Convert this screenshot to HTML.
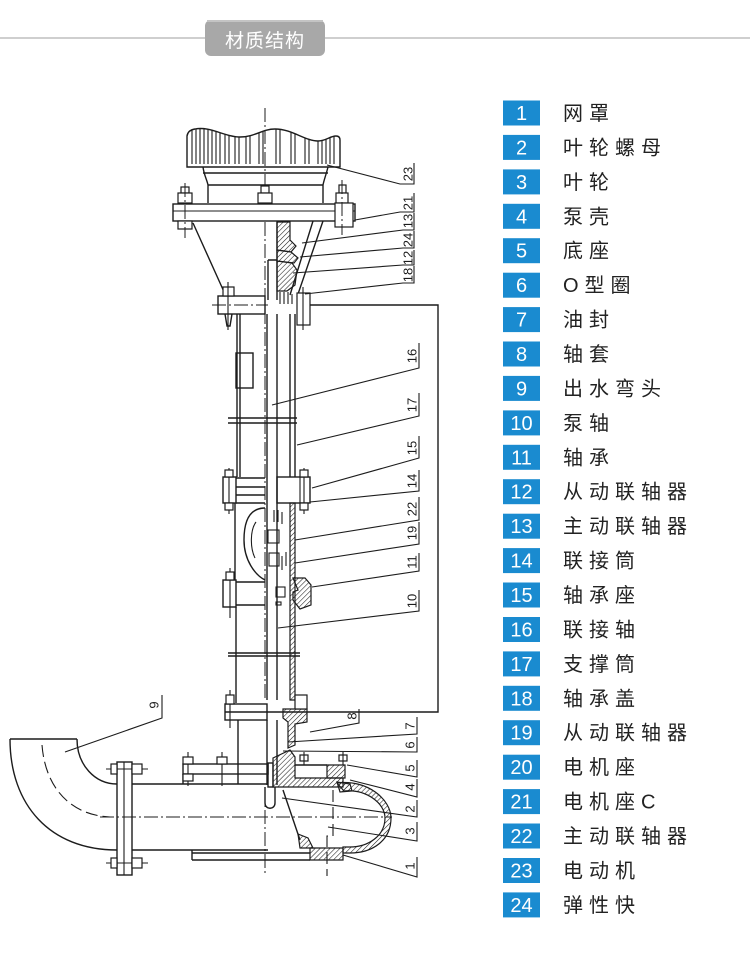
<!DOCTYPE html>
<html><head><meta charset="utf-8"><style>
html,body{margin:0;padding:0;background:#fff;}
svg{display:block;}
.l{stroke:#1c1c1c;stroke-width:1.4;fill:none;}
.t{stroke:#1c1c1c;stroke-width:1.1;fill:none;}
.cd{stroke:#1c1c1c;stroke-width:1;fill:none;stroke-dasharray:14 3 2 3;}
.dd{stroke:#1c1c1c;stroke-width:1.1;fill:none;stroke-dasharray:12 5;}
.h{fill:url(#hat);stroke:#1c1c1c;stroke-width:1.2;}
.w{fill:#fff;stroke:#1c1c1c;stroke-width:1.2;}
.lab{font-family:"Liberation Sans",sans-serif;font-size:13px;fill:#1c1c1c;}
.num{font-family:"Liberation Sans",sans-serif;font-size:20px;fill:#fff;}
.cn{font-family:"Liberation Sans","Noto Sans CJK SC",sans-serif;font-size:20px;fill:#222;letter-spacing:6px;}
</style></head><body>
<svg width="750" height="978" viewBox="0 0 750 978" xmlns="http://www.w3.org/2000/svg">
<defs>
<pattern id="hat" width="3.5" height="3.5" patternUnits="userSpaceOnUse" patternTransform="rotate(45)">
<line x1="0" y1="0" x2="0" y2="3.5" stroke="#1c1c1c" stroke-width="1.1"/>
</pattern>
<clipPath id="fins"><path d="M187,167 L187,136 Q188,130 195,129 C210,126 225,137 240,137 C255,137 262,129 275,129 C292,129 305,141 318,141 C326,141 330,136 336,136 Q340,136 340,140 L340,167 Z"/></clipPath>
</defs>
<rect width="750" height="978" fill="#fff"/>

<!-- title -->
<line x1="0" y1="38" x2="750" y2="38" stroke="#cfcfcf" stroke-width="2"/>
<rect x="205" y="20" width="120" height="36" rx="6" fill="#a8a8a8"/>
<rect x="207" y="20" width="116" height="2" fill="#c4c4c4"/>
<text x="265" y="47" text-anchor="middle" font-family="Liberation Sans,'Noto Sans CJK SC',sans-serif" font-size="19" fill="#fff" letter-spacing="1">材质结构</text>

<!-- legend -->
<g>
<rect x="503" y="100.5" width="37" height="25" fill="#1a8bd0"/><text class="num" x="521.5" y="120" text-anchor="middle">1</text><text class="cn" x="563" y="120">网罩</text>
<rect x="503" y="134.9" width="37" height="25" fill="#1a8bd0"/><text class="num" x="521.5" y="154.4" text-anchor="middle">2</text><text class="cn" x="563" y="154.4">叶轮螺母</text>
<rect x="503" y="169.4" width="37" height="25" fill="#1a8bd0"/><text class="num" x="521.5" y="188.9" text-anchor="middle">3</text><text class="cn" x="563" y="188.9">叶轮</text>
<rect x="503" y="203.8" width="37" height="25" fill="#1a8bd0"/><text class="num" x="521.5" y="223.3" text-anchor="middle">4</text><text class="cn" x="563" y="223.3">泵壳</text>
<rect x="503" y="238.2" width="37" height="25" fill="#1a8bd0"/><text class="num" x="521.5" y="257.7" text-anchor="middle">5</text><text class="cn" x="563" y="257.7">底座</text>
<rect x="503" y="272.7" width="37" height="25" fill="#1a8bd0"/><text class="num" x="521.5" y="292.2" text-anchor="middle">6</text><text class="cn" x="563" y="292.2">O型圈</text>
<rect x="503" y="307.1" width="37" height="25" fill="#1a8bd0"/><text class="num" x="521.5" y="326.6" text-anchor="middle">7</text><text class="cn" x="563" y="326.6">油封</text>
<rect x="503" y="341.5" width="37" height="25" fill="#1a8bd0"/><text class="num" x="521.5" y="361" text-anchor="middle">8</text><text class="cn" x="563" y="361">轴套</text>
<rect x="503" y="375.9" width="37" height="25" fill="#1a8bd0"/><text class="num" x="521.5" y="395.4" text-anchor="middle">9</text><text class="cn" x="563" y="395.4">出水弯头</text>
<rect x="503" y="410.4" width="37" height="25" fill="#1a8bd0"/><text class="num" x="521.5" y="429.9" text-anchor="middle">10</text><text class="cn" x="563" y="429.9">泵轴</text>
<rect x="503" y="444.8" width="37" height="25" fill="#1a8bd0"/><text class="num" x="521.5" y="464.3" text-anchor="middle">11</text><text class="cn" x="563" y="464.3">轴承</text>
<rect x="503" y="479.2" width="37" height="25" fill="#1a8bd0"/><text class="num" x="521.5" y="498.7" text-anchor="middle">12</text><text class="cn" x="563" y="498.7">从动联轴器</text>
<rect x="503" y="513.7" width="37" height="25" fill="#1a8bd0"/><text class="num" x="521.5" y="533.2" text-anchor="middle">13</text><text class="cn" x="563" y="533.2">主动联轴器</text>
<rect x="503" y="548.1" width="37" height="25" fill="#1a8bd0"/><text class="num" x="521.5" y="567.6" text-anchor="middle">14</text><text class="cn" x="563" y="567.6">联接筒</text>
<rect x="503" y="582.5" width="37" height="25" fill="#1a8bd0"/><text class="num" x="521.5" y="602" text-anchor="middle">15</text><text class="cn" x="563" y="602">轴承座</text>
<rect x="503" y="617" width="37" height="25" fill="#1a8bd0"/><text class="num" x="521.5" y="636.5" text-anchor="middle">16</text><text class="cn" x="563" y="636.5">联接轴</text>
<rect x="503" y="651.4" width="37" height="25" fill="#1a8bd0"/><text class="num" x="521.5" y="670.9" text-anchor="middle">17</text><text class="cn" x="563" y="670.9">支撑筒</text>
<rect x="503" y="685.8" width="37" height="25" fill="#1a8bd0"/><text class="num" x="521.5" y="705.3" text-anchor="middle">18</text><text class="cn" x="563" y="705.3">轴承盖</text>
<rect x="503" y="720.2" width="37" height="25" fill="#1a8bd0"/><text class="num" x="521.5" y="739.7" text-anchor="middle">19</text><text class="cn" x="563" y="739.7">从动联轴器</text>
<rect x="503" y="754.7" width="37" height="25" fill="#1a8bd0"/><text class="num" x="521.5" y="774.2" text-anchor="middle">20</text><text class="cn" x="563" y="774.2">电机座</text>
<rect x="503" y="789.1" width="37" height="25" fill="#1a8bd0"/><text class="num" x="521.5" y="808.6" text-anchor="middle">21</text><text class="cn" x="563" y="808.6">电机座C</text>
<rect x="503" y="823.5" width="37" height="25" fill="#1a8bd0"/><text class="num" x="521.5" y="843" text-anchor="middle">22</text><text class="cn" x="563" y="843">主动联轴器</text>
<rect x="503" y="858" width="37" height="25" fill="#1a8bd0"/><text class="num" x="521.5" y="877.5" text-anchor="middle">23</text><text class="cn" x="563" y="877.5">电动机</text>
<rect x="503" y="892.4" width="37" height="25" fill="#1a8bd0"/><text class="num" x="521.5" y="911.9" text-anchor="middle">24</text><text class="cn" x="563" y="911.9">弹性快</text>
</g>

<!-- ============ DRAWING ============ -->
<!-- motor fins -->
<path class="l" d="M187,167 L187,136 Q188,130 195,129 C210,126 225,137 240,137 C255,137 262,129 275,129 C292,129 305,141 318,141 C326,141 330,136 336,136 Q340,136 340,140 L340,167 Z"/>
<g clip-path="url(#fins)" class="t">
<path d="M192,120V164 M196,120V164 M200,120V164 M204,120V164 M208,120V164 M212,120V164 M216,120V164 M220,120V164 M225,120V164 M229,120V164 M235,120V164 M239,120V164 M246,120V164 M250,120V164 M259,120V164 M263,120V164 M276,120V164 M280,120V164 M291,120V164 M295,120V164 M305,120V164 M309,120V164 M318,120V164 M322,120V164 M326,120V164 M330,120V164 M334,120V164"/>
</g>
<!-- motor body -->
<path class="l" d="M203,167 C204,175 207,180 208,185 L208,203 M328,167 C326,175 324,180 323,185 L323,203 M203,173 H328 M208,185 H323"/>
<!-- top centerline -->
<line class="cd" x1="265" y1="108" x2="265" y2="198"/>
<!-- plate -->
<rect class="l" x="173" y="204" width="182" height="17"/>
<line class="t" x1="173" y1="211" x2="355" y2="211"/>
<!-- plate bolts -->
<rect class="w" x="181" y="187" width="8" height="6"/><rect class="w" x="178" y="193" width="14" height="10"/>
<rect class="w" x="178" y="221" width="14" height="8"/>
<line class="cd" x1="185" y1="183" x2="185" y2="238"/>
<rect class="w" x="261" y="186" width="8" height="7"/><rect class="w" x="258" y="193" width="14" height="10"/>
<rect class="w" x="339" y="185" width="7" height="8"/><rect class="w" x="336" y="193" width="12" height="10"/>
<rect class="w" x="335" y="203" width="18" height="24"/>
<line class="cd" x1="342" y1="180" x2="342" y2="235"/>
<!-- cone -->
<path class="l" d="M193,223 L225,294 M323,221 L297,297 M313,221 L290,295"/>
<!-- coupling inside cone -->
<path class="h" d="M277,222 L290,222 L290,240 L296,246 L291,252 L277,250 Z"/>
<path class="h" d="M277,250 L291,252 L298,258 L294,263 L277,261 Z"/>
<path class="h" d="M277,261 L292,263 L297,270 L295,285 L287,291 L277,291 Z"/>
<path class="l" d="M277,222 V300 M268,260 H277 M268,260 V300"/>
<line class="cd" x1="265" y1="222" x2="265" y2="300"/>
<path class="t" d="M280,292V304 M284,292V304 M288,292V304 M292,294V304"/>
<!-- upper flange -->
<rect class="l" x="218" y="296" width="47" height="18"/>
<line class="cd" x1="212" y1="305" x2="268" y2="305"/>
<rect class="w" x="223" y="287" width="11" height="9"/>
<path class="l" d="M225,314 L227,326 L230,326 L232,314"/>
<line class="t" x1="228" y1="282" x2="228" y2="330"/>
<rect class="w" x="297" y="293" width="13" height="32"/>
<line class="t" x1="303" y1="287" x2="303" y2="330"/>
<!-- frame -->
<path class="l" d="M310,305 H438 V712 H225"/>
<!-- column upper -->
<path class="l" d="M237,314 V477 M240,314 V477 M290,314 V477 M295,314 V477 M267,314 V700 M277,314 V700"/>
<line class="cd" x1="265" y1="310" x2="265" y2="700"/>
<rect class="l" x="236" y="353" width="17" height="35"/>
<path class="l" d="M228,418 H297 M228,423 H297"/>
<!-- flange 1 -->
<rect class="l" x="223" y="477" width="13" height="26"/>
<path class="l" d="M236,478 H265 M236,503 H265 M236,487 H265 M236,495 H265"/>
<rect class="l" x="277" y="477" width="33" height="26"/>
<line class="t" x1="300" y1="477" x2="300" y2="503"/>
<line class="t" x1="229" y1="468" x2="229" y2="514"/>
<rect class="w" x="225" y="470" width="8" height="7"/><rect class="w" x="225" y="503" width="8" height="7"/>
<line class="t" x1="304" y1="468" x2="304" y2="514"/>
<rect class="w" x="300" y="470" width="8" height="7"/><rect class="w" x="300" y="503" width="8" height="7"/>
<!-- column between flange 1 and 2 -->
<path class="l" d="M235,503 V580"/>
<path class="h" d="M290,503 H295 V700 H290 Z"/>
<!-- coupling housing 22/19 -->
<path class="l" d="M265,508 C250,508 244,520 244,540 C244,560 255,575 265,580"/>
<path class="t" d="M256,522 C250,530 250,548 255,558"/>
<rect class="t" x="268" y="530" width="11" height="13"/>
<rect class="t" x="269" y="553" width="10" height="13"/>
<path class="t" d="M274,510V522 M278,510V522 M282,512V524 M282,556V570 M286,552V566"/>
<!-- flange 2 -->
<rect class="l" x="223" y="580" width="13" height="27"/>
<path class="l" d="M236,582 H265 M236,605 H265"/>
<line class="t" x1="230" y1="568" x2="230" y2="618"/>
<rect class="w" x="226" y="572" width="8" height="8"/>
<path class="h" d="M293,578 L305,578 L311,585 L311,605 L300,609 L293,600 L293,592 L298,590 Z"/>
<rect class="t" x="276" y="587" width="9" height="10"/>
<rect class="t" x="276" y="602" width="5" height="3"/>
<!-- column lower -->
<path class="l" d="M236,607 V703"/>
<path class="l" d="M228,653 H300 M228,656 H300"/>
<!-- flange 3 -->
<rect class="l" x="225" y="704" width="42" height="16"/>
<line class="t" x1="230" y1="690" x2="230" y2="728"/>
<rect class="w" x="226" y="695" width="8" height="9"/>
<path class="h" d="M283,709 L307,709 L307,722 L295,724 L295,745 L288,748 L288,722 L283,718 Z"/>
<rect class="w" x="295" y="695" width="12" height="14"/>
<!-- below flange 3 -->
<path class="l" d="M238,720 V784 M267,720 V785 M277,720 V785"/>
<!-- pump casing -->
<path class="h" d="M273,758 L290,750 L295,757 L295,778 L343,778 L343,787 L273,787 Z"/>
<path class="h" d="M327,765 L345,765 L345,778 L327,778 Z"/>
<path class="l" d="M295,765 H327"/>
<rect class="w" x="300" y="755" width="8" height="6"/><line class="t" x1="304" y1="752" x2="304" y2="765"/>
<rect class="w" x="339" y="755" width="8" height="6"/><line class="t" x1="343" y1="752" x2="343" y2="765"/>
<!-- volute -->
<path class="h" d="M337,783 C368,779 391,800 391,818 C391,840 373,853 350,853 L343,853 L343,847 L350,847 C368,847 385,836 385,818 C385,803 366,789 344,791 Z"/>
<path class="h" d="M337,782 L350,784 L352,791 L340,792 Z"/>
<path class="h" d="M310,848 H343 V860 H310 Z"/>
<!-- base plate -->
<path class="l" d="M192,853 H310 M192,860 H310 M192,850 V860"/>
<!-- impeller -->
<path class="l" d="M283,790 L300,840"/>
<path class="h" d="M298,834 L308,838 L313,848 L300,848 Z"/>
<!-- intake -->
<rect class="l" x="268" y="763" width="5" height="24"/>
<path class="l" d="M265,787 L265,803 C265,810 275,810 275,803 L275,787"/>
<line class="cd" x1="265" y1="788" x2="265" y2="876"/>
<path class="dd" d="M333,790 V836 H327 V876"/>
<!-- upper support bar -->
<rect class="l" x="183" y="764" width="85" height="10"/>
<path class="l" d="M183,774 V784"/>
<line class="t" x1="188" y1="752" x2="188" y2="786"/><rect class="w" x="183" y="757" width="10" height="7"/><rect class="w" x="183" y="774" width="10" height="7"/>
<line class="t" x1="222" y1="752" x2="222" y2="786"/><rect class="w" x="217" y="757" width="10" height="7"/>
<!-- pipe -->
<path class="l" d="M132,784 H268 M132,850 H268"/>
<line class="cd" x1="100" y1="817" x2="392" y2="817"/>
<!-- pipe flange -->
<rect class="l" x="117" y="762" width="15" height="113"/>
<line class="t" x1="124" y1="762" x2="124" y2="875"/>
<line class="t" x1="106" y1="769" x2="148" y2="769"/><rect class="w" x="111" y="764" width="6" height="10"/><rect class="w" x="132" y="764" width="10" height="10"/>
<line class="t" x1="106" y1="863" x2="148" y2="863"/><rect class="w" x="111" y="858" width="6" height="10"/><rect class="w" x="132" y="858" width="10" height="10"/>
<!-- elbow -->
<path class="l" d="M10,739 H77 M10,739 C10,805 50,850 117,850 M77,739 C77,765 95,784 117,784"/>
<path class="dd" d="M42,745 C45,785 68,815 110,817"/>

<!-- ============ LABELS ============ -->
<g class="t">
<path d="M327,165 L400,184 H414 V163"/>
<path d="M355,220 L400,212 H414 V193"/>
<path d="M302,243 L403,230 H414 V213"/>
<path d="M300,257 L403,248 H414 V231"/>
<path d="M293,273 L403,265 H414 V250"/>
<path d="M305,294 L403,283 H414 V266"/>
<path d="M272,405 L419,368 V343"/>
<path d="M297,445 L419,416 V393"/>
<path d="M312,488 L419,458 V436"/>
<path d="M310,502 L419,491 V470"/>
<path d="M295,540 L419,520 V497"/>
<path d="M295,563 L419,544 V522"/>
<path d="M312,587 L419,571 V553"/>
<path d="M278,628 L419,611 V590"/>
<path d="M310,732 L359,723 V709"/>
<path d="M288,742 L417,734 V717"/>
<path d="M283,751 L417,752 V737"/>
<path d="M347,765 L417,777 V760"/>
<path d="M350,780 L417,797 V779"/>
<path d="M282,798 L417,817 V800"/>
<path d="M328,827 L417,841 V822"/>
<path d="M343,855 L417,877 V857"/>
<path d="M65,752 L162,718 V695"/>
</g>
<g class="lab" text-anchor="middle" dominant-baseline="central">
<text transform="translate(408,174) rotate(-90)">23</text>
<text transform="translate(408,203) rotate(-90)">21</text>
<text transform="translate(408,221) rotate(-90)">13</text>
<text transform="translate(408,240) rotate(-90)">24</text>
<text transform="translate(408,258) rotate(-90)">12</text>
<text transform="translate(408,275) rotate(-90)">18</text>
<text transform="translate(412,356) rotate(-90)">16</text>
<text transform="translate(412,405) rotate(-90)">17</text>
<text transform="translate(412,448) rotate(-90)">15</text>
<text transform="translate(412,481) rotate(-90)">14</text>
<text transform="translate(412,509) rotate(-90)">22</text>
<text transform="translate(412,533) rotate(-90)">19</text>
<text transform="translate(412,562) rotate(-90)">11</text>
<text transform="translate(412,601) rotate(-90)">10</text>
<text transform="translate(352,716) rotate(-90)">8</text>
<text transform="translate(410,726) rotate(-90)">7</text>
<text transform="translate(410,745) rotate(-90)">6</text>
<text transform="translate(410,768) rotate(-90)">5</text>
<text transform="translate(410,787) rotate(-90)">4</text>
<text transform="translate(410,809) rotate(-90)">2</text>
<text transform="translate(410,831) rotate(-90)">3</text>
<text transform="translate(410,866) rotate(-90)">1</text>
<text transform="translate(154,705) rotate(-90)">9</text>
</g>
</svg>
</body></html>
